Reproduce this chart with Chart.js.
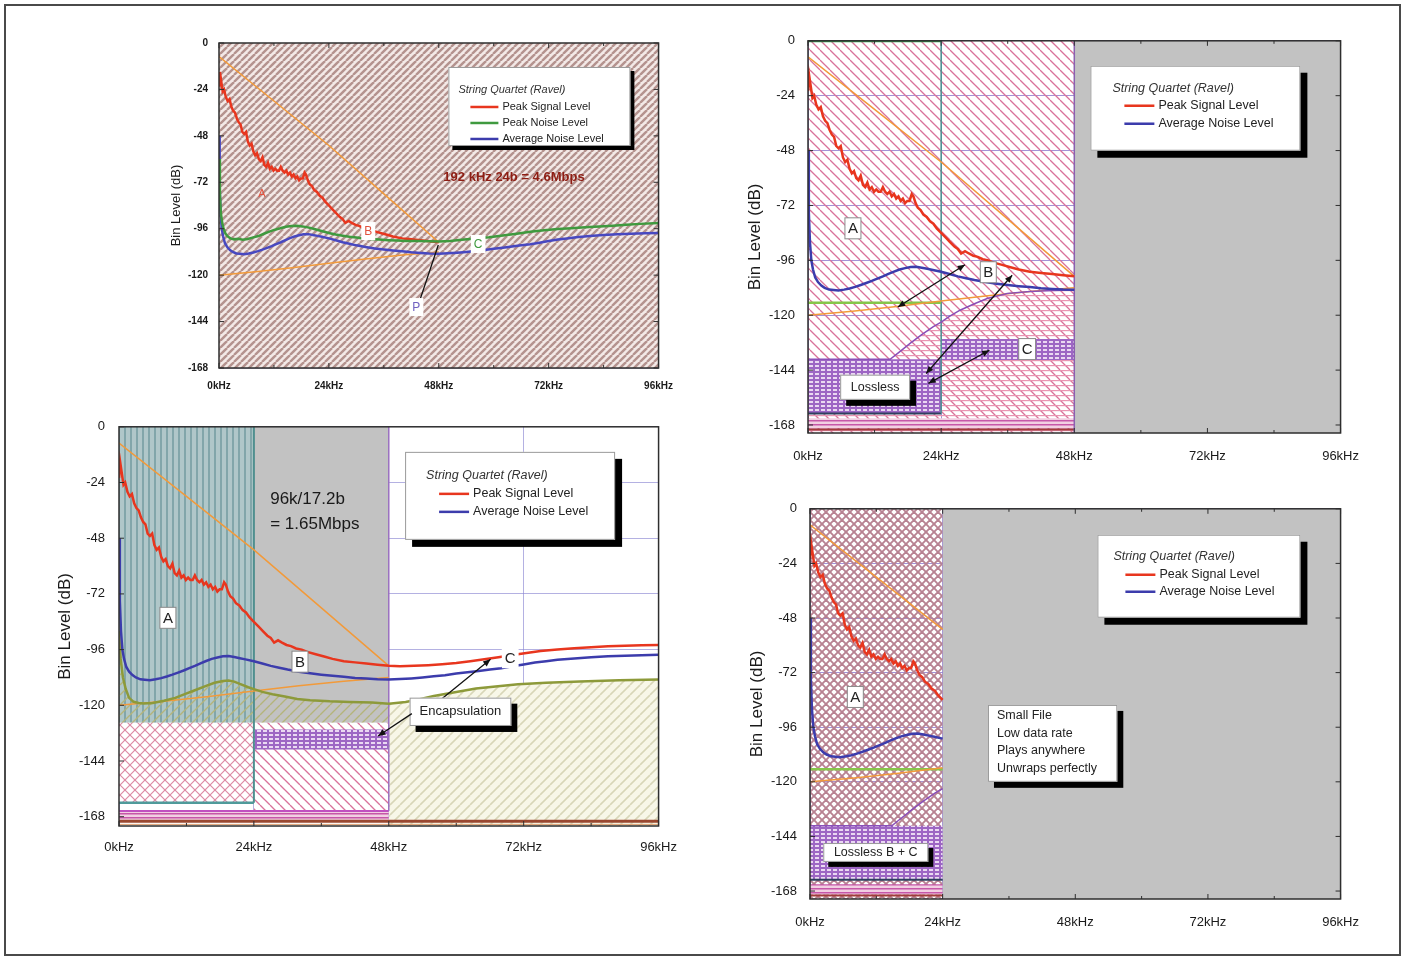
<!DOCTYPE html>
<html>
<head>
<meta charset="utf-8">
<script src="https://cdn.jsdelivr.net/npm/chart.js@4.4.1/dist/chart.umd.min.js"></script>
<style>
  body { margin: 0; background: #fff; width: 1407px; height: 958px; position: relative; overflow: hidden; }
  #frame { position: absolute; left: 4px; top: 4px; width: 1397px; height: 952px; border: 2px solid #4a4a4a; box-sizing: border-box; }
  canvas { position: absolute; }
  #c1 { left: 150px; top: 26px; }
  #c2 { left: 40px; top: 405px; }
  #c3 { left: 730px; top: 20px; }
  #c4 { left: 730px; top: 488px; }
</style>
</head>
<body>
<div id="frame"></div>
<canvas id="c1" width="535" height="376"></canvas>
<canvas id="c2" width="651" height="455"></canvas>
<canvas id="c3" width="645" height="448"></canvas>
<canvas id="c4" width="645" height="449"></canvas>
<script>
// axes
const xTicks = [0, 24, 48, 72, 96];
const yTicks = [0, -24, -48, -72, -96, -120, -144, -168];
const legendTitle = 'String Quartet (Ravel)';
const seriesNames = ['Peak Signal Level', 'Peak Noise Level', 'Average Noise Level'];

// peak signal level (red)
const peakKHz = [0, 0.2, 0.5, 0.8, 1.1, 1.5, 1.9, 2.3, 2.7, 3.1,
  3.5, 3.9, 4.3, 4.7, 5.1, 5.5, 5.9, 6.3, 6.7, 7.1,
  7.5, 7.9, 8.3, 8.7, 9.1, 9.5, 9.9, 10.3, 10.7, 11.1,
  11.5, 11.9, 12.3, 12.7, 13.1, 13.5, 13.9, 14.3, 14.7, 15.1,
  15.5, 15.9, 16.3, 16.7, 17.1, 17.5, 17.9, 18.3, 18.7, 19.0,
  19.4, 19.8, 20.3, 20.8, 21.4, 22.0, 22.6, 23.2, 24.0, 24.8,
  25.6, 26.4, 27.0, 27.6, 28.3, 29.0, 29.8, 30.6, 31.5, 32.5,
  33.5, 35.0, 36.5, 38.0, 40.0, 42.0, 44.0, 46.0, 48.0, 50.0,
  52.5, 55.0, 57.5, 60.0, 62.5, 65.0, 67.5, 70.0, 72.5, 75.0,
  78.0, 81.0, 84.0, 87.0, 90.0, 93.0, 96.0];
const peakDB = [-22, -15, -20, -25, -24, -28, -30, -29, -33, -35,
  -36, -39, -41, -42, -46, -47, -46, -51, -53, -52,
  -56, -58, -57, -60, -61, -59, -63, -64, -62, -65,
  -64, -66, -65, -66, -66, -64, -66, -67, -66, -68,
  -67, -69, -68, -70, -69, -71, -70, -70, -67, -68,
  -71, -73, -74, -76, -77, -79, -80, -82, -84, -86,
  -88, -90, -91, -93, -92, -93, -94, -94.5, -95.5, -96,
  -97, -98, -99, -100, -101, -101.5, -102, -102.5, -103, -103.2,
  -103, -102.7, -102.3, -101.8, -101, -100.2, -99.3, -98.3, -97.5, -96.6,
  -96, -95.4, -95, -94.6, -94.3, -94.1, -94];

// average noise level (blue)
const noiseKHz = [0, 0.15, 0.35, 0.6, 0.9, 1.3, 1.8, 2.4, 3.0, 3.8,
  4.6, 5.5, 6.5, 7.5, 8.5, 9.5, 10.5, 11.5, 12.5, 13.5,
  14.5, 15.5, 16.5, 17.5, 18.5, 19.5, 20.5, 21.5, 22.5, 24,
  25.5, 27, 28.5, 30, 32, 34, 36, 38, 40, 42,
  44, 46, 48, 50, 52, 54, 56, 58, 60, 62,
  64, 66, 68, 70, 72, 74, 76, 78, 81, 84,
  87, 90, 93, 96];
const noiseDB = [-48, -75, -88, -96, -100, -103.5, -105.5, -107, -108, -108.8,
  -109, -109.2, -108.8, -108.3, -107.6, -106.8, -105.9, -105, -104, -103,
  -101.9, -100.9, -100, -99.4, -98.9, -98.8, -99.2, -99.7, -100.2, -101,
  -102, -103, -103.8, -104.6, -105.5, -106.2, -106.8, -107.3, -107.7, -108.2,
  -108.5, -108.8, -108.9, -108.7, -108.4, -108, -107.5, -107, -106.3, -105.8,
  -105.2, -104.6, -104, -103.2, -102.4, -101.6, -101, -100.4, -99.8, -99.3,
  -98.9, -98.6, -98.4, -98.2];

// peak noise level (green, 192k plot)
const pnKHz = [0, 0.2, 0.4, 0.7, 1.0, 1.4, 1.9, 2.5, 3.3, 4.2,
  5.2, 6.3, 7.5, 8.6, 9.8, 11.0, 12.2, 13.4, 14.6, 15.8,
  17.0, 18.2, 19.4, 20.6, 21.8, 23.0, 24.2, 25.5, 27.0, 28.5,
  30.0, 31.5, 33.0, 35.0, 37.0, 39.0, 41.0, 43.5, 46.0, 48.0,
  50.5, 53.0, 56.0, 59.0, 62.0, 65.0, 68.0, 71.0, 74.0, 77.0,
  80.0, 83.0, 86.0, 89.0, 92.0, 96.0];
const pnDB = [-60, -78, -88, -93, -96, -98.5, -100, -101, -101.5, -101.2,
  -101.7, -101.3, -100.5, -99.8, -98.6, -97.5, -96.5, -95.8, -95, -94.6,
  -94.5, -94.8, -95.3, -96, -96.8, -97.6, -98.3, -99, -99.6, -100.2,
  -100.6, -101, -101.3, -101.6, -101.9, -102.1, -102.3, -102.4, -102.5, -102.6,
  -102.3, -101.7, -101.1, -100.4, -99.5, -98.6, -97.6, -96.8, -96.2, -95.7,
  -95.3, -94.9, -94.5, -94, -93.5, -93];

// olive curve (96k plot)
const oliveKHz = [0, 0.3, 0.7, 1.2, 1.8, 2.6, 3.5, 4.4, 6.0, 8.0,
  10.0, 11.7, 13.5, 15.5, 17.0, 18.5, 19.5, 20.5, 21.5, 23.0,
  24.0, 25.5, 27.3, 29.5, 31.7, 34.0, 37.5, 41.0, 45.0, 48.0,
  51.0, 53.5, 56.0, 60.0, 63.5, 67.0, 71.0, 76.0, 82.0, 89.0, 96.0];
const oliveDB = [-88, -100, -108, -113, -116.8, -118.5, -119, -119.2, -119, -118,
  -116.8, -115.2, -113.5, -111.6, -110.3, -109.5, -109.3, -109.8, -110.8, -112.2,
  -113, -114.2, -115.2, -116.2, -117.3, -117.8, -118.3, -118.6, -118.8, -119.3,
  -118.6, -117.4, -116, -114.3, -112.8, -111.9, -110.9, -110.3, -109.7, -109.2, -108.9];

// purple curve (lossless plots)
const purpleKHz = [0, 8, 14.8, 16.5, 18.4, 20.5, 22.6, 24, 25.5, 27.4, 30, 32.3, 35.9, 40, 44, 48];
const purpleDB = [-139.3, -139.3, -139.3, -136, -132.3, -128.5, -125, -123, -120.5, -117.8, -115, -112.7, -110.5, -109.6, -109.2, -109];

// orange guide lines
const orangeUpKHz = [0, 12, 24, 36, 48];
const orangeUpDB = [-7, -30, -53, -78, -103];
const orangeLowKHz = [0, 8, 16, 24, 32, 40, 48];
const orangeLowDB = [-120, -118.3, -116.2, -113.8, -111.6, -109.6, -108];

// zones
const bandEdges = [0, 24, 48, 96];
const shadeFloor = -127.5;
const encapBox = [-130.4, -139.6];
const losslessBox = [-139.3, -163];
const ditherBand = [-165, -169.5];
const floorLine = -170;
const codecLine = -114.5;

const FONT = "'Liberation Sans', Arial, Helvetica, sans-serif";
const RED = '#e8361e', BLUE = '#3c3cac', GREEN = '#3f9a3f', ORANGE = '#f29a3a';
const OLIVE = '#8d9a3a', PURPLE = '#8a4fb8', LIME = '#86c64a', GREY = '#c2c2c2';

function pts(xs, ys) { return xs.map((x, i) => ({ x: x, y: ys[i] })); }
function upTo(xs, ys, maxX) { return pts(xs, ys).filter(p => p.x <= maxX); }
function from(xs, ys, minX) { return pts(xs, ys).filter(p => p.x >= minX); }

function curve(data, color, width, order) {
  return { data: data, borderColor: color, borderWidth: width, pointRadius: 0, fill: false, order: order, tension: 0 };
}
function zone(x0, x1, yTop, yBottom, bg, order) {
  return { data: [{ x: x0, y: yTop }, { x: x1, y: yTop }], borderWidth: 0, borderColor: 'rgba(0,0,0,0)',
    pointRadius: 0, backgroundColor: bg, fill: { value: yBottom }, order: order };
}
function area(data, bg, yBottom, order) {
  return { data: data, borderWidth: 0, borderColor: 'rgba(0,0,0,0)', pointRadius: 0,
    backgroundColor: bg, fill: { value: yBottom }, order: order };
}

// hatch patterns
function tile(w, h, bg, paint) {
  const c = document.createElement('canvas');
  c.width = w; c.height = h;
  const g = c.getContext('2d');
  if (bg) { g.fillStyle = bg; g.fillRect(0, 0, w, h); }
  paint(g);
  return g.createPattern(c, 'repeat');
}
function slashes(g, s, color, lw, back) {
  g.strokeStyle = color; g.lineWidth = lw;
  [-s, 0, s].forEach(k => {
    g.beginPath();
    if (back) { g.moveTo(k, 0); g.lineTo(k + s, s); } else { g.moveTo(k, s); g.lineTo(k + s, 0); }
    g.stroke();
  });
}
const pat = {
  brown: tile(7, 7, '#f3e9e7', g => slashes(g, 7, '#b4928e', 2.4)),
  pinkBack: tile(10, 10, null, g => slashes(g, 10, '#d9729a', 1.3, true)),
  pinkBackWhite: tile(10, 10, '#ffffff', g => slashes(g, 10, '#d9729a', 1.3, true)),
  pinkHoriz: tile(6, 5, null, g => { g.fillStyle = '#e995b2'; g.fillRect(0, 0, 6, 1.2); }),
  purple: tile(6, 4, '#9d66c4', g => { g.fillStyle = '#ead8f2'; g.fillRect(1, 1, 4, 2); }),
  band: tile(4, 4, '#f2cfe2', g => { g.fillStyle = '#c656a8'; g.fillRect(0, 0, 4, 1.5); }),
  redCross: tile(8, 8, null, g => { slashes(g, 8, '#b88292', 1.9); slashes(g, 8, '#b88292', 1.9, true); }),
  pinkCross: tile(10, 10, '#ffffff', g => { slashes(g, 10, '#dc8aa4', 1.2); slashes(g, 10, '#dc8aa4', 1.2, true); }),
  teal: tile(6, 6, '#b0c7c9', g => { g.fillStyle = '#82a6aa'; g.fillRect(0, 0, 2, 6); }),
  olive: tile(10, 10, null, g => slashes(g, 10, '#b4b47a', 1.3)),
  oliveBeige: tile(10, 10, '#f8f7e8', g => slashes(g, 10, '#d8d6b8', 1.6))
};

// drawing helpers for notes
function px(chart, x, y) { return [chart.scales.x.getPixelForValue(x), chart.scales.y.getPixelForValue(y)]; }
function seg(ctx, x0, y0, x1, y1) { ctx.beginPath(); ctx.moveTo(x0, y0); ctx.lineTo(x1, y1); ctx.stroke(); }

function frame(chart, mirror) {
  const ctx = chart.ctx, a = chart.chartArea;
  ctx.save();
  ctx.strokeStyle = '#2e2e2e'; ctx.lineWidth = 1.5;
  ctx.strokeRect(a.left, a.top, a.right - a.left, a.bottom - a.top);
  ctx.lineWidth = 1;
  yTicks.forEach(v => {
    const y = chart.scales.y.getPixelForValue(v);
    seg(ctx, a.left, y, a.left + 5, y);
    if (mirror) seg(ctx, a.right - 5, y, a.right, y);
  });
  xTicks.forEach((v, i) => {
    const x = chart.scales.x.getPixelForValue(v);
    seg(ctx, x, a.bottom, x, a.bottom - 5);
    if (mirror) seg(ctx, x, a.top, x, a.top + 5);
    if (i > 0) {
      const m = chart.scales.x.getPixelForValue((v + xTicks[i - 1]) / 2);
      seg(ctx, m, a.bottom, m, a.bottom - 3);
      if (mirror) seg(ctx, m, a.top, m, a.top + 3);
    }
  });
  ctx.restore();
}

function legend(chart, kx, ky, w, h, fs, names, colors, L) {
  const ctx = chart.ctx;
  const [x, y] = px(chart, kx, ky);
  ctx.save();
  ctx.fillStyle = '#000'; ctx.fillRect(x + L.sh, y + L.sh, w, h);
  ctx.fillStyle = '#fff'; ctx.fillRect(x, y, w, h);
  ctx.strokeStyle = '#9a9a9a'; ctx.lineWidth = 1; ctx.strokeRect(x + 0.5, y + 0.5, w - 1, h - 1);
  ctx.textBaseline = 'middle'; ctx.textAlign = 'left';
  ctx.fillStyle = '#333'; ctx.font = 'italic ' + fs + 'px ' + FONT;
  ctx.fillText(legendTitle, x + L.tx, y + L.ty);
  ctx.font = fs + 'px ' + FONT;
  names.forEach((n, i) => {
    const yy = y + L.r0 + i * L.rs;
    ctx.strokeStyle = colors[i]; ctx.lineWidth = 2.5;
    seg(ctx, x + L.l0, yy, x + L.l1, yy);
    ctx.fillStyle = '#222';
    ctx.fillText(n, x + L.l1 + 4, yy);
  });
  ctx.restore();
}

function noteBox(chart, x0, y0, x1, y1, lines, fs, sh, rowY0, rowStep, align) {
  const ctx = chart.ctx;
  const [ax, ay] = px(chart, x0, y0);
  const [bx, by] = px(chart, x1, y1);
  const w = bx - ax, h = by - ay;
  ctx.save();
  if (sh) { ctx.fillStyle = '#000'; ctx.fillRect(ax + sh, ay + sh, w, h); }
  ctx.fillStyle = '#fff'; ctx.fillRect(ax, ay, w, h);
  ctx.strokeStyle = '#999'; ctx.lineWidth = 1; ctx.strokeRect(ax + 0.5, ay + 0.5, w - 1, h - 1);
  ctx.fillStyle = '#222'; ctx.font = fs + 'px ' + FONT; ctx.textBaseline = 'middle';
  lines.forEach((t, i) => {
    const yy = ay + (rowY0 == null ? h / 2 : rowY0) + i * (rowStep || 0);
    if (align === 'left') { ctx.textAlign = 'left'; ctx.fillText(t, ax + 9, yy); }
    else { ctx.textAlign = 'center'; ctx.fillText(t, ax + w / 2, yy); }
  });
  ctx.restore();
}

function tag(chart, kx, ky, t, fs, color, boxed, bg) {
  const ctx = chart.ctx;
  const [x, y] = px(chart, kx, ky);
  ctx.save();
  ctx.font = fs + 'px ' + FONT;
  const w = ctx.measureText(t).width + 6, h = fs + 6;
  if (bg) { ctx.fillStyle = '#fff'; ctx.fillRect(x - w / 2, y - h / 2, w, h); }
  if (boxed) { ctx.strokeStyle = '#8a8a8a'; ctx.lineWidth = 1; ctx.strokeRect(x - w / 2, y - h / 2, w, h); }
  ctx.fillStyle = color; ctx.textAlign = 'center'; ctx.textBaseline = 'middle';
  ctx.fillText(t, x, y + 1);
  ctx.restore();
}

function text(chart, kx, ky, t, font, color) {
  const ctx = chart.ctx;
  const [x, y] = px(chart, kx, ky);
  ctx.save();
  ctx.font = font + ' ' + FONT; ctx.fillStyle = color;
  ctx.textAlign = 'left'; ctx.textBaseline = 'middle';
  ctx.fillText(t, x, y);
  ctx.restore();
}

function head(ctx, from, to) {
  const ang = Math.atan2(to[1] - from[1], to[0] - from[0]);
  ctx.beginPath();
  ctx.moveTo(to[0], to[1]);
  ctx.lineTo(to[0] - 8 * Math.cos(ang - 0.4), to[1] - 8 * Math.sin(ang - 0.4));
  ctx.lineTo(to[0] - 8 * Math.cos(ang + 0.4), to[1] - 8 * Math.sin(ang + 0.4));
  ctx.closePath(); ctx.fill();
}
function arrow(chart, a, b, headA, headB) {
  const ctx = chart.ctx;
  const p = px(chart, a[0], a[1]), q = px(chart, b[0], b[1]);
  ctx.save();
  ctx.strokeStyle = '#111'; ctx.fillStyle = '#111'; ctx.lineWidth = 1.3;
  seg(ctx, p[0], p[1], q[0], q[1]);
  if (headA) head(ctx, q, p);
  if (headB) head(ctx, p, q);
  ctx.restore();
}

function makeChart(id, cfg) {
  return new Chart(document.getElementById(id), {
    type: 'line',
    data: { datasets: cfg.datasets },
    options: {
      responsive: false,
      animation: false,
      events: [],
      layout: { padding: { top: cfg.pt, right: cfg.pr, left: 0, bottom: 0 } },
      plugins: { legend: { display: false }, tooltip: { enabled: false } },
      scales: {
        x: {
          type: 'linear', position: 'bottom', min: 0, max: 96, z: cfg.z,
          afterBuildTicks: s => { s.ticks = xTicks.map(v => ({ value: v })); },
          afterFit: s => { s.height = cfg.xh; },
          grid: { color: cfg.grid, drawTicks: false },
          border: { display: false },
          ticks: { padding: cfg.xpad, color: '#1a1a1a', maxRotation: 0, autoSkip: false,
            font: { family: FONT, size: cfg.fs, weight: cfg.fw }, callback: v => v + 'kHz' }
        },
        y: {
          type: 'linear', min: cfg.ymin, max: 0, z: cfg.z,
          afterBuildTicks: s => { s.ticks = yTicks.map(v => ({ value: v })); },
          afterFit: s => { s.width = cfg.yw; },
          grid: { color: cfg.grid, drawTicks: false },
          border: { display: false },
          ticks: { padding: cfg.ypad, color: '#1a1a1a', font: { family: FONT, size: cfg.fs, weight: cfg.fw } },
          title: { display: true, text: 'Bin Level (dB)', color: '#1a1a1a',
            font: { family: FONT, size: cfg.tfs }, padding: { top: cfg.tpad, bottom: 0 } }
        }
      }
    },
    plugins: [{ id: 'notes', afterDraw: cfg.notes }]
  });
}

// 192 kHz / 24 bit
makeChart('c1', {
  pt: 9, pr: 21, xh: 34, yw: 69, ymin: -168, z: 1, grid: 'rgba(120,105,165,0.5)',
  fs: 10, fw: 'bold', tfs: 13, tpad: 19, xpad: 12, ypad: 11,
  datasets: [
    curve(pts(pnKHz, pnDB), GREEN, 2.5, 1),
    curve(pts(noiseKHz, noiseDB), '#4848c0', 2.5, 2),
    curve(upTo(peakKHz, peakDB, 48), RED, 2.5, 3),
    curve(pts(orangeUpKHz, orangeUpDB), ORANGE, 1.5, 4),
    curve(pts(orangeLowKHz, orangeLowDB), ORANGE, 1.5, 4),
    zone(bandEdges[0], bandEdges[3], 0, -168, pat.brown, 90)
  ],
  notes: chart => {
    frame(chart, true);
    legend(chart, 50.1, -12.4, 182, 79, 11, seriesNames, [RED, GREEN, BLUE],
      { sh: 4, tx: 10, ty: 23, l0: 22, l1: 50, r0: 40, rs: 16 });
    text(chart, 49, -69.3, '192 kHz 24b = 4.6Mbps', 'bold 13px', '#8e1d13');
    tag(chart, 9.4, -77.5, 'A', 11, '#e2513d', false, false);
    tag(chart, 32.6, -97.2, 'B', 12, '#e2513d', false, true);
    tag(chart, 56.6, -103.9, 'C', 12, GREEN, false, true);
    arrow(chart, [44, -132], [47.9, -104.4], false, false);
    tag(chart, 43.1, -136.5, 'P', 12, '#7060c0', false, true);
  }
});

// 96 kHz / 17.2 bit
makeChart('c2', {
  pt: 2, pr: 21, xh: 34, yw: 79, ymin: -172, z: 1, grid: 'rgba(140,135,210,0.65)',
  fs: 13, fw: 'normal', tfs: 17, tpad: 15, xpad: 14, ypad: 14,
  datasets: [
    curve(pts(peakKHz, peakDB), RED, 2.5, 1),
    curve(pts(noiseKHz, noiseDB), BLUE, 2.5, 2),
    curve(pts(oliveKHz, oliveDB), OLIVE, 2.5, 3),
    curve(pts(orangeUpKHz, orangeUpDB), ORANGE, 1.5, 4),
    curve(pts(orangeLowKHz, orangeLowDB), ORANGE, 1.5, 4),
    curve([{ x: 24, y: 0 }, { x: 24, y: losslessBox[1] + 1 }], '#4f8f8f', 2, 10),
    curve([{ x: 0, y: losslessBox[1] + 1 }, { x: 24, y: losslessBox[1] + 1 }], '#4f9a9a', 2.5, 10),
    curve([{ x: 48, y: 0 }, { x: 48, y: ditherBand[0] - 0.5 }], '#9a70c0', 1.5, 10),
    curve([{ x: 0, y: ditherBand[0] - 0.5 }, { x: 48, y: ditherBand[0] - 0.5 }], '#c050c0', 2, 10),
    curve([{ x: 0, y: floorLine }, { x: 96, y: floorLine }], '#9a4830', 3, 10),
    curve([{ x: 0, y: floorLine - 1.3 }, { x: 96, y: floorLine - 1.3 }], '#e0a070', 1, 10),
    zone(24, 48, encapBox[0], encapBox[1] + 0.6, pat.purple, 60),
    zone(0, 48, ditherBand[0] - 0.5, ditherBand[1], pat.band, 60),
    zone(0, 24, shadeFloor, losslessBox[1] + 1, pat.pinkCross, 70),
    zone(24, 48, shadeFloor, ditherBand[0] - 0.5, pat.pinkBackWhite, 70),
    area(upTo(oliveKHz, oliveDB, 48), pat.olive, shadeFloor, 80),
    area(from(oliveKHz, oliveDB, 48), pat.oliveBeige, -172, 80),
    zone(0, 24, 0, shadeFloor, pat.teal, 90),
    zone(24, 48, 0, shadeFloor, GREY, 90)
  ],
  notes: chart => {
    frame(chart, false);
    legend(chart, 50.9, -10.8, 210, 88, 12.5, [seriesNames[0], seriesNames[2]], [RED, BLUE],
      { sh: 7, tx: 21, ty: 24, l0: 34, l1: 64, r0: 42, rs: 18 });
    text(chart, 26.9, -31.4, '96k/17.2b', '17px', '#1a1a1a');
    text(chart, 26.9, -41.8, '= 1.65Mbps', '17px', '#1a1a1a');
    tag(chart, 8.7, -82.3, 'A', 15, '#222', true, true);
    tag(chart, 32.2, -101.2, 'B', 15, '#222', true, true);
    arrow(chart, [56.9, -118.2], [66.1, -100.2], false, true);
    tag(chart, 69.6, -99.5, 'C', 15, '#222', false, true);
    noteBox(chart, 51.7, -116.7, 69.8, -128.9, ['Encapsulation'], 13, 6);
    arrow(chart, [52.1, -123.6], [46.1, -133.2], false, true);
  }
});

// lossless, full band
makeChart('c3', {
  pt: 4, pr: 15, xh: 35, yw: 78, ymin: -171.5, z: 0, grid: 'rgba(140,120,205,0.8)',
  fs: 13, fw: 'normal', tfs: 17, tpad: 15, xpad: 16, ypad: 13,
  datasets: [
    curve(upTo(peakKHz, peakDB, 48), RED, 2.5, 1),
    curve(upTo(noiseKHz, noiseDB, 48), BLUE, 2.5, 2),
    curve(pts(purpleKHz, purpleDB), PURPLE, 1.5, 3),
    curve(pts(orangeUpKHz, orangeUpDB), ORANGE, 1.5, 4),
    curve(pts(orangeLowKHz, orangeLowDB), ORANGE, 1.5, 4),
    curve([{ x: 0, y: codecLine }, { x: 24, y: codecLine }], LIME, 2.5, 5),
    curve([{ x: 0, y: 0 }, { x: 24, y: 0 }], '#3a9a50', 3, 10),
    curve([{ x: 24, y: 0 }, { x: 24, y: losslessBox[1] }], '#4a9090', 1.5, 10),
    curve([{ x: 48, y: 0 }, { x: 48, y: -171.5 }], '#8a60b0', 1.5, 10),
    curve([{ x: 0, y: losslessBox[1] }, { x: 24, y: losslessBox[1] }], '#2f3f5f', 2, 10),
    curve([{ x: 0, y: floorLine }, { x: 48, y: floorLine }], '#a03a3a', 2, 10),
    zone(24, 48, encapBox[0], encapBox[1], pat.purple, 60),
    zone(0, 24, losslessBox[0], losslessBox[1], pat.purple, 60),
    zone(0, 48, ditherBand[0], ditherBand[1], pat.band, 60),
    area(pts(purpleKHz, purpleDB), pat.pinkHoriz, -171.5, 80),
    zone(0, 48, 0, -171.5, pat.pinkBack, 85),
    zone(48, 96, 0, -171.5, GREY, 90)
  ],
  notes: chart => {
    frame(chart, true);
    legend(chart, 50.9, -10.9, 210, 85, 12.5, [seriesNames[0], seriesNames[2]], [RED, BLUE],
      { sh: 7, tx: 22, ty: 23, l0: 34, l1: 64, r0: 40, rs: 18 });
    tag(chart, 8.1, -82, 'A', 15, '#222', true, true);
    tag(chart, 32.5, -101.2, 'B', 15, '#222', true, true);
    tag(chart, 39.5, -134.8, 'C', 15, '#222', true, true);
    arrow(chart, [28.3, -97.9], [16.2, -116.4], true, true);
    arrow(chart, [36.8, -102.5], [21.3, -145.5], true, true);
    arrow(chart, [32.7, -135.3], [21.7, -149.8], true, true);
    noteBox(chart, 5.8, -146, 18.4, -157, ['Lossless'], 12.5, 6);
  }
});

// lossless, 48 kHz band
makeChart('c4', {
  pt: 3, pr: 15, xh: 38, yw: 80, ymin: -171.5, z: 0, grid: 'rgba(140,120,205,0.8)',
  fs: 13, fw: 'normal', tfs: 17, tpad: 17, xpad: 16, ypad: 13,
  datasets: [
    curve(upTo(peakKHz, peakDB, 24), RED, 2.5, 1),
    curve(upTo(noiseKHz, noiseDB, 24), BLUE, 2.5, 2),
    curve(upTo(purpleKHz, purpleDB, 24), PURPLE, 1.5, 3),
    curve(upTo(orangeUpKHz, orangeUpDB, 24), ORANGE, 1.5, 4),
    curve(upTo(orangeLowKHz, orangeLowDB, 24), ORANGE, 1.5, 4),
    curve([{ x: 0, y: codecLine }, { x: 24, y: codecLine }], LIME, 2.5, 5),
    curve([{ x: 0, y: losslessBox[1] }, { x: 24, y: losslessBox[1] }], '#2f3f5f', 2, 10),
    curve([{ x: 0, y: floorLine }, { x: 24, y: floorLine }], '#a03a3a', 2, 10),
    zone(0, 24, losslessBox[0], losslessBox[1], pat.purple, 60),
    zone(0, 24, ditherBand[0], ditherBand[1], pat.band, 60),
    zone(0, 24, 0, -171.5, pat.redCross, 85),
    zone(24, 96, 0, -171.5, GREY, 90)
  ],
  notes: chart => {
    frame(chart, true);
    legend(chart, 52, -11.4, 203, 83, 12.5, [seriesNames[0], seriesNames[2]], [RED, BLUE],
      { sh: 7, tx: 16, ty: 22, l0: 28, l1: 58, r0: 40, rs: 17 });
    tag(chart, 8.2, -82.7, 'A', 15, '#222', true, true);
    noteBox(chart, 2.4, -146.9, 21.4, -155.2, ['Lossless B + C'], 12.5, 5);
    noteBox(chart, 32.2, -86.2, 55.6, -120,
      ['Small File', 'Low data rate', 'Plays anywhere', 'Unwraps perfectly'], 12.5, 6, 11, 17.5, 'left');
  }
});
</script>
</body>
</html>
